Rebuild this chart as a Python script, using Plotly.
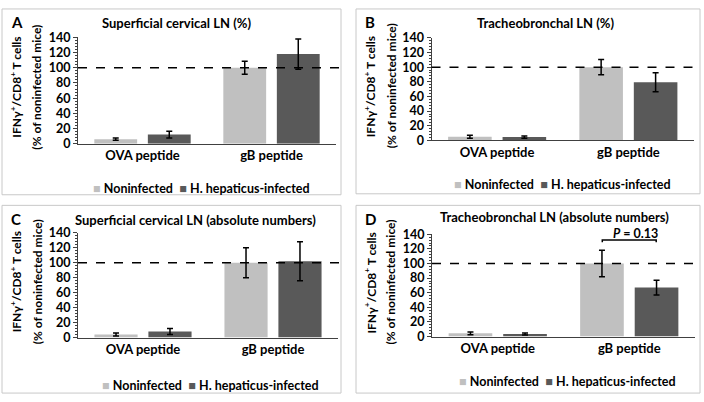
import plotly.graph_objects as go

# categories and series
categories = ["OVA peptide", "gB peptide"]
series_names = ["Noninfected", "H. hepaticus-infected"]
series_colors = ["#c0c0c0", "#595959"]

panel_letters = ["A", "B", "C", "D"]
panel_titles = [
    "Superficial cervical LN (%)",
    "Tracheobronchal LN (%)",
    "Superficial cervical LN (absolute numbers)",
    "Tracheobronchal LN (absolute numbers)",
]

# % of noninfected mice, mean and error
a_noninf = [6, 100]
a_noninf_err = [1.5, 8.5]
a_hh = [12, 118]
a_hh_err = [4.5, 20]

b_noninf = [5, 100]
b_noninf_err = [2, 10.5]
b_hh = [4.5, 79.5]
b_hh_err = [1.5, 13]

c_noninf = [4, 100]
c_noninf_err = [2, 20]
c_hh = [8, 102]
c_hh_err = [4, 26]

d_noninf = [4.4, 100]
d_noninf_err = [2, 18]
d_hh = [3.5, 67]
d_hh_err = [1.5, 10]

y_ticks = [0, 20, 40, 60, 80, 100, 120, 140]
reference_level = 100
p_label = "<i>P</i> = 0.13"
p_bracket_y = 132

panels = [
    (a_noninf, a_noninf_err, a_hh, a_hh_err),
    (b_noninf, b_noninf_err, b_hh, b_hh_err),
    (c_noninf, c_noninf_err, c_hh, c_hh_err),
    (d_noninf, d_noninf_err, d_hh, d_hh_err),
]

W, H = 704, 402
FONT = "Lato"


def px(x):
    return x / W


def py(y):
    return 1 - y / H


# plot-area geometry in pixels: (x0, x1, y_top, y_bottom)
plot_px = [
    (78, 336, 30.5, 141),
    (431.5, 694, 31, 137.5),
    (78, 338, 233.5, 342.3),
    (432, 695, 235, 341.3),
]
# panel boxes: (x0, y0, x1, y1)
boxes = [(2, 1, 341, 194), (356, 1, 700, 193), (2, 205, 341, 400), (356, 205, 700, 400)]
title_pos = [(176, 16), (545, 16), (196, 220), (554, 217)]
legend_pos = [(93, 188), (454, 183), (102, 392), (459, 388)]

fig = go.Figure()
annotations = []
shapes = []


def note(text, x, y, size=13, **kw):
    d = dict(text=text, x=px(x), y=py(y), xref="paper", yref="paper", showarrow=False,
             font=dict(family=FONT, size=size, color="black"))
    d.update(kw)
    annotations.append(d)


for i, (noninf, noninf_err, hh, hh_err) in enumerate(panels):
    n = "" if i == 0 else str(i + 1)
    xa, ya = "x" + n, "y" + n
    for name, vals, errs, col in zip(series_names, [noninf, hh], [noninf_err, hh_err], series_colors):
        fig.add_trace(go.Bar(
            x=categories, y=vals, name=name, marker_color=col, marker_line_width=0,
            error_y=dict(type="data", array=errs, color="black", thickness=1.5, width=3),
            xaxis=xa, yaxis=ya, showlegend=False,
        ))

    x0, x1, yt, yb = plot_px[i]
    fig.layout["xaxis" + n] = dict(
        domain=[px(x0), px(x1)], anchor=ya, showline=True, linecolor="#404040", linewidth=1,
        ticks="", tickfont=dict(family=FONT, size=13, color="black", weight="bold"),
        showgrid=False, zeroline=False, fixedrange=True,
    )
    fig.layout["yaxis" + n] = dict(
        domain=[py(yb), py(yt)], anchor=xa, range=[0, 140], tickvals=y_ticks,
        showline=True, linecolor="#404040", linewidth=1, ticks="outside", ticklen=4,
        tickcolor="#404040", minor=dict(dtick=4, ticks="outside", ticklen=2, tickcolor="#404040"),
        tickfont=dict(family=FONT, size=12.5, color="black", weight="bold"),
        showgrid=False, zeroline=False, fixedrange=True,
    )

    bx0, by0, bx1, by1 = boxes[i]
    shapes.append(dict(type="rect", xref="paper", yref="paper", x0=px(bx0), x1=px(bx1),
                       y0=py(by1), y1=py(by0), line=dict(color="#c8c8c8", width=1)))
    shapes.append(dict(type="line", xref=xa + " domain", yref=ya, x0=0,
                       x1=(bx1 - x0) / (x1 - x0), y0=reference_level, y1=reference_level,
                       line=dict(color="black", width=1.5, dash="dash")))

    note("<b>" + panel_letters[i] + "</b>", bx0 + 7, by0 + 14, size=15,
         xanchor="left", yanchor="middle")
    tx, ty = title_pos[i]
    note("<b>" + panel_titles[i] + "</b>", tx, ty, xanchor="center", yanchor="middle")
    ymid = (yt + yb) / 2 - 3
    note("<b>IFNγ<sup>+</sup>/CD8<sup>+</sup> T cells</b>", bx0 + 14, ymid, size=12,
         textangle=-90, xanchor="center", yanchor="middle")
    note("<b>(% of noninfected mice)</b>", bx0 + 35, ymid, size=12,
         textangle=-90, xanchor="center", yanchor="middle")
    legend_text = ("<span style='color:%s'>■</span> <b>%s</b>  <span style='color:%s'>■</span> <b>%s</b>"
                   % (series_colors[0], series_names[0], series_colors[1], series_names[1]))
    lx, ly = legend_pos[i]
    note(legend_text, lx - 2, ly, size=12.5, xanchor="left", yanchor="middle")

# P-value bracket in panel D
shapes.append(dict(type="path", xref="x4", yref="y4",
                   path="M 0.795,129 L 0.795,%s L 1.205,%s L 1.205,129" % (p_bracket_y, p_bracket_y),
                   line=dict(color="black", width=1.5)))
note("<b>" + p_label + "</b>", 635, 234, size=12.5, xanchor="center", yanchor="middle")

fig.update_layout(
    width=W, height=H, margin=dict(l=0, r=0, t=0, b=0),
    paper_bgcolor="white", plot_bgcolor="white",
    barmode="group", bargap=0.17, bargroupgap=0.2,
    shapes=shapes, annotations=annotations,
)

fig.write_html("out.html", config={"displayModeBar": False},
               post_script="document.body.style.margin='0';")
